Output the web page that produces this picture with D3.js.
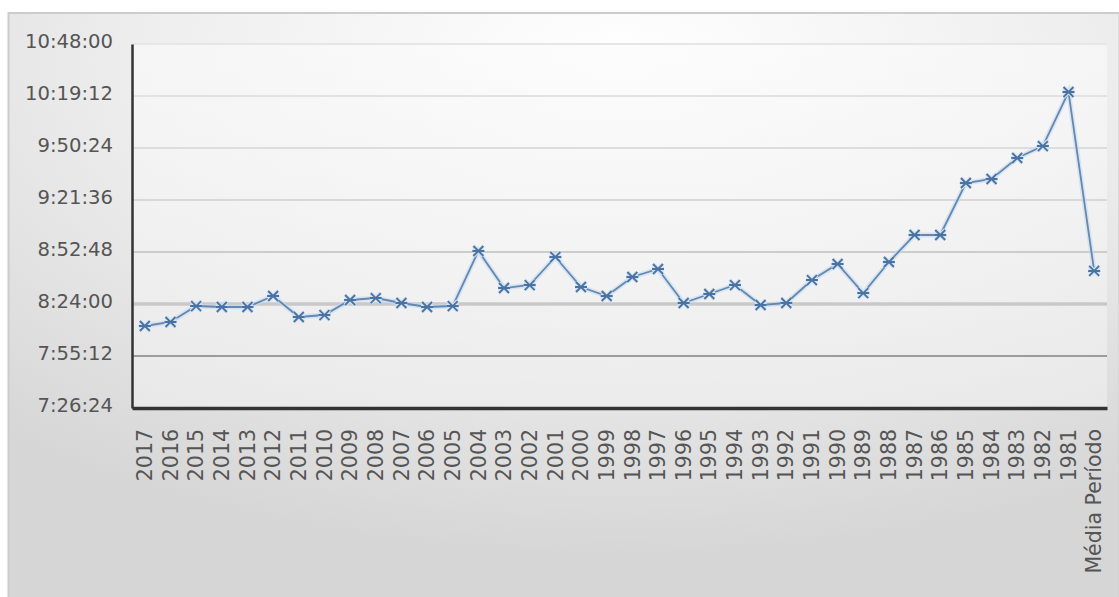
<!DOCTYPE html>
<html>
<head>
<meta charset="utf-8">
<script src="https://cdn.jsdelivr.net/npm/d3@7"></script>
<style>
  html, body { margin: 0; padding: 0; background: #ffffff; }
  svg { display: block; }
</style>
</head>
<body>
<svg id="chart" width="1119" height="597"></svg>
<script>
// Categories (years, newest first, plus the period average)
const categories = ["2017","2016","2015","2014","2013","2012","2011","2010","2009","2008",
  "2007","2006","2005","2004","2003","2002","2001","2000","1999","1998",
  "1997","1996","1995","1994","1993","1992","1991","1990","1989","1988",
  "1987","1986","1985","1984","1983","1982","1981","Média Período"];

// Times of day (h:mm:ss) for each category
const times = ["8:11:49","8:14:02","8:22:53","8:22:20","8:22:20","8:28:26","8:16:48","8:17:54","8:26:13","8:27:19",
  "8:24:33","8:22:20","8:22:53","8:53:21","8:32:52","8:34:31","8:50:02","8:33:25","8:28:26","8:38:57",
  "8:43:23","8:24:33","8:29:32","8:34:31","8:23:27","8:24:33","8:37:17","8:46:09","8:30:05","8:47:16",
  "9:02:13","9:02:13","9:31:01","9:33:14","9:44:52","9:51:30","10:21:25","8:42:17"];

// Y axis tick labels
const yTicks = ["7:26:24","7:55:12","8:24:00","8:52:48","9:21:36","9:50:24","10:19:12","10:48:00"];

const toSec = s => { const p = s.split(":").map(Number); return p[0]*3600 + p[1]*60 + (p[2]||0); };
const data = categories.map((c, i) => ({ cat: c, v: toSec(times[i]) }));
const tickVals = yTicks.map(toSec);

const W = 1119, H = 597;
const m = { left: 132, right: 12, top: 44, bottom: 189 };
const FONT = "'DejaVu Sans', sans-serif";
const svg = d3.select("#chart");
const defs = svg.append("defs");

// Background gradient of the chart frame
const bg = defs.append("radialGradient").attr("id", "bgGrad")
  .attr("cx", "55%").attr("cy", "8%").attr("r", "85%");
bg.append("stop").attr("offset", "0%").attr("stop-color", "#ffffff");
bg.append("stop").attr("offset", "50%").attr("stop-color", "#eeeeee");
bg.append("stop").attr("offset", "100%").attr("stop-color", "#d6d6d6");

const pg = defs.append("linearGradient").attr("id", "plotGrad")
  .attr("x1", 0).attr("y1", 0).attr("x2", 0).attr("y2", 1);
pg.append("stop").attr("offset", "0%").attr("stop-color", "#fbfbfb");
pg.append("stop").attr("offset", "100%").attr("stop-color", "#f0f0f0");

svg.append("rect").attr("x", 0).attr("y", 0).attr("width", W).attr("height", H).attr("fill", "#ffffff");
svg.append("rect").attr("x", 8.5).attr("y", 13).attr("width", W - 8).attr("height", H - 12)
  .attr("fill", "url(#bgGrad)").attr("stroke", "#cccccc").attr("stroke-width", 2);

const x = d3.scaleBand().domain(categories).range([m.left, W - m.right]).padding(0);
const y = d3.scaleLinear().domain([tickVals[0], tickVals[tickVals.length - 1]])
  .range([H - m.bottom, m.top]);

svg.append("rect").attr("x", m.left).attr("y", m.top)
  .attr("width", W - m.right - m.left).attr("height", H - m.bottom - m.top)
  .attr("fill", "url(#plotGrad)").attr("opacity", 0.6);

// Gridlines with shaded weight toward the bottom
const gridStyle = [
  null,
  { c: "#9c9c9c", w: 2 },
  { c: "#c9c9c9", w: 3.5 },
  { c: "#cccccc", w: 2 },
  { c: "#d8d8d8", w: 2 },
  { c: "#dddddd", w: 2 },
  { c: "#e2e2e2", w: 2 },
  { c: "#e6e6e6", w: 2 }
];
svg.append("g").selectAll("line").data(tickVals.slice(1)).join("line")
  .attr("x1", m.left).attr("x2", W - m.right)
  .attr("y1", d => y(d)).attr("y2", d => y(d))
  .attr("stroke", (d, i) => gridStyle[i + 1].c)
  .attr("stroke-width", (d, i) => gridStyle[i + 1].w);

// Y axis
const fmt = s => { const h = Math.floor(s / 3600), mi = Math.floor((s % 3600) / 60), se = s % 60;
  return h + ":" + String(mi).padStart(2, "0") + ":" + String(se).padStart(2, "0"); };
const yAxis = svg.append("g").attr("transform", `translate(${m.left},0)`)
  .call(d3.axisLeft(y).tickValues(tickVals).tickFormat(fmt).tickSize(0).tickPadding(19));
yAxis.select(".domain").attr("stroke", "#333").attr("stroke-width", 2.5);
yAxis.selectAll("text").attr("font-family", FONT)
  .attr("font-size", 19.6).attr("fill", "#555").attr("dy", "0.2em");

// X axis
const xAxis = svg.append("g").attr("transform", `translate(0,${H - m.bottom})`)
  .call(d3.axisBottom(x).tickSize(0).tickPadding(0));
xAxis.select(".domain").attr("stroke", "#333").attr("stroke-width", 3.5);
xAxis.selectAll("text")
  .attr("font-family", FONT)
  .attr("font-size", 20.5).attr("fill", "#555")
  .attr("transform", "rotate(-90)")
  .attr("text-anchor", "end")
  .attr("dy", "0.35em")
  .attr("x", -21).attr("y", 0);

// Series line
const cx = d => x(d.cat) + x.bandwidth() / 2;
const line = d3.line().x(cx).y(d => y(d.v));
svg.append("path").datum(data).attr("d", line)
  .attr("fill", "none").attr("stroke", "#c8daf0").attr("stroke-width", 5).attr("opacity", 0.6);
svg.append("path").datum(data).attr("d", line)
  .attr("fill", "none").attr("stroke", "#6288b4").attr("stroke-width", 1.8);

// Star markers (x with a horizontal bar)
const mk = svg.append("g").selectAll("g").data(data).join("g")
  .attr("transform", d => `translate(${cx(d)},${y(d.v)})`);
const r = 5;
mk.append("path")
  .attr("d", `M${-r},${-r}L${r},${r}M${-r},${r}L${r},${-r}M${-r - 1},0L${r + 1},0`)
  .attr("stroke", "#d3e3f5").attr("stroke-width", 4).attr("fill", "none");
mk.append("path")
  .attr("d", `M${-r},${-r}L${r},${r}M${-r},${r}L${r},${-r}M${-r - 1},0L${r + 1},0`)
  .attr("stroke", "#4a73a3").attr("stroke-width", 1.8).attr("fill", "none");
</script>
</body>
</html>
